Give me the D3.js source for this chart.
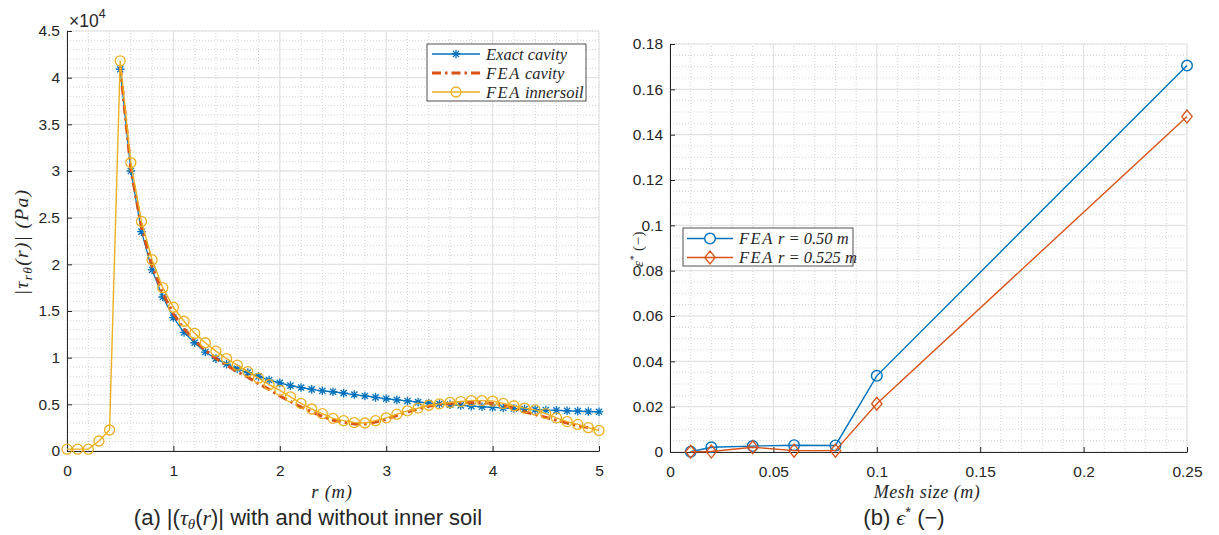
<!DOCTYPE html>
<html>
<head>
<meta charset="utf-8">
<script src="https://cdn.jsdelivr.net/npm/d3@7"></script>
<style>
  html, body { margin: 0; padding: 0; background: #fff; }
  svg { display: block; }
  text { fill: #262626; }
</style>
</head>
<body>
<svg id="fig" width="1219" height="535"></svg>
<script>
// ---- Panel (a): shear stress magnitude vs radius (values in units of 1e4 Pa) ----
const rExact = [0.5,0.6,0.7,0.8,0.9,1.0,1.1,1.2,1.3,1.4,1.5,1.6,1.7,1.8,1.9,2.0,2.1,2.2,2.3,2.4,2.5,2.6,2.7,2.8,2.9,3.0,3.1,3.2,3.3,3.4,3.5,3.6,3.7,3.8,3.9,4.0,4.1,4.2,4.3,4.4,4.5,4.6,4.7,4.8,4.9,5.0];
const tauExact = [4.09,3.00,2.35,1.94,1.65,1.43,1.27,1.16,1.06,0.99,0.93,0.88,0.84,0.80,0.76,0.73,0.70,0.68,0.66,0.645,0.635,0.62,0.605,0.59,0.575,0.56,0.548,0.536,0.524,0.513,0.505,0.497,0.489,0.481,0.474,0.467,0.461,0.455,0.449,0.444,0.439,0.435,0.431,0.427,0.423,0.42];
const rCavity = rExact;
const tauCavity = [4.12,3.02,2.40,1.98,1.69,1.47,1.31,1.18,1.08,0.99,0.92,0.85,0.79,0.72,0.66,0.59,0.53,0.47,0.42,0.37,0.33,0.31,0.29,0.29,0.31,0.34,0.38,0.42,0.45,0.48,0.50,0.51,0.52,0.52,0.52,0.51,0.49,0.46,0.42,0.39,0.36,0.33,0.30,0.27,0.25,0.23];
const rSoil = [0,0.1,0.2,0.3,0.4,0.5,0.6,0.7,0.8,0.9,1.0,1.1,1.2,1.3,1.4,1.5,1.6,1.7,1.8,1.9,2.0,2.1,2.2,2.3,2.4,2.5,2.6,2.7,2.8,2.9,3.0,3.1,3.2,3.3,3.4,3.5,3.6,3.7,3.8,3.9,4.0,4.1,4.2,4.3,4.4,4.5,4.6,4.7,4.8,4.9,5.0];
const tauSoil = [0.02,0.02,0.02,0.107,0.225,4.18,3.09,2.46,2.05,1.75,1.54,1.39,1.26,1.16,1.07,0.99,0.92,0.85,0.78,0.71,0.65,0.58,0.51,0.45,0.40,0.35,0.325,0.305,0.30,0.325,0.355,0.395,0.43,0.46,0.49,0.505,0.52,0.53,0.54,0.54,0.535,0.51,0.485,0.46,0.44,0.40,0.355,0.315,0.285,0.25,0.22];
const ticksA_x = [0,1,2,3,4,5];
const ticksA_y = [0,0.5,1,1.5,2,2.5,3,3.5,4,4.5];

// ---- Panel (b): relative error vs mesh size ----
const meshSize = [0.01,0.02,0.04,0.06,0.08,0.1,0.25];
const errR050 = [0.0001,0.0021,0.0026,0.0030,0.0029,0.0336,0.1705];
const errR0525 = [0.0001,0.0002,0.0021,0.0006,0.0006,0.0213,0.1480];
const ticksB_x = [0,0.05,0.1,0.15,0.2,0.25];
const ticksB_y = [0,0.02,0.04,0.06,0.08,0.1,0.12,0.14,0.16,0.18];

const C_BLUE = "#0072BD", C_ORANGE = "#D95319", C_YELLOW = "#EDB120";
const AXIS = "#262626";
const SERIF = "'Liberation Serif', 'Times New Roman', serif";
const SANS = "'Liberation Sans', Arial, sans-serif";
const svg = d3.select("#fig");
svg.append("rect").attr("width", 1219).attr("height", 535).attr("fill", "#fff");

function range(a, b, s) { const out = []; for (let v = a; v <= b + 1e-9; v += s) out.push(+v.toFixed(6)); return out; }

// Draws grid, axis lines, inward ticks and tick labels for one panel.
function panel(x, y, xMinor, yMinor, xFmt, yFmt, xTicks, yTicks) {
  const g = svg.append("g");
  const [x0, x1] = x.range(), [y0, y1] = y.range();
  // minor grid (dotted)
  g.selectAll(".mx").data(xMinor).join("line")
    .attr("x1", d => x(d)).attr("x2", d => x(d)).attr("y1", y0).attr("y2", y1)
    .attr("stroke", "#c8c8c8").attr("stroke-width", 0.8).attr("stroke-dasharray", "1,2");
  g.selectAll(".my").data(yMinor).join("line")
    .attr("y1", d => y(d)).attr("y2", d => y(d)).attr("x1", x0).attr("x2", x1)
    .attr("stroke", "#c8c8c8").attr("stroke-width", 0.8).attr("stroke-dasharray", "1,2");
  // major grid
  g.selectAll(".gx").data(xTicks).join("line")
    .attr("x1", d => x(d)).attr("x2", d => x(d)).attr("y1", y0).attr("y2", y1)
    .attr("stroke", "#e0e0e0").attr("stroke-width", 1);
  g.selectAll(".gy").data(yTicks).join("line")
    .attr("y1", d => y(d)).attr("y2", d => y(d)).attr("x1", x0).attr("x2", x1)
    .attr("stroke", "#e0e0e0").attr("stroke-width", 1);
  // left & bottom axes with inward ticks
  const ax = d3.axisBottom(x).tickValues(xTicks).tickFormat(xFmt).tickSizeInner(-5).tickSizeOuter(0).tickPadding(14);
  const ay = d3.axisLeft(y).tickValues(yTicks).tickFormat(yFmt).tickSizeInner(-5).tickSizeOuter(0).tickPadding(7);
  const gx = svg.append("g").attr("transform", `translate(0,${y0})`).call(ax);
  const gy = svg.append("g").attr("transform", `translate(${x0},0)`).call(ay);
  [gx, gy].forEach(a => {
    a.select(".domain").attr("stroke", AXIS).attr("stroke-width", 1);
    a.selectAll(".tick line").attr("stroke", AXIS);
    a.selectAll(".tick text").attr("fill", AXIS)
      .style("font-family", SANS).style("font-size", "15.5px");
  });
  return g;
}

// Asterisk marker (plus + cross)
function star(g, cx, cy, s, color) {
  const k = s * 0.72;
  g.append("path")
    .attr("d", `M${cx - s},${cy}L${cx + s},${cy}M${cx},${cy - s}L${cx},${cy + s}M${cx - k},${cy - k}L${cx + k},${cy + k}M${cx - k},${cy + k}L${cx + k},${cy - k}`)
    .attr("stroke", color).attr("stroke-width", 1.3).attr("fill", "none");
}
function diamond(g, cx, cy, color) {
  g.append("path").attr("d", `M${cx},${cy - 6.5}L${cx + 5.2},${cy}L${cx},${cy + 6.5}L${cx - 5.2},${cy}Z`)
    .attr("stroke", color).attr("stroke-width", 1.3).attr("fill", "none");
}
function mathText(sel, size, spacing) {
  return sel.style("font-family", SERIF).style("font-style", "italic")
    .style("font-size", size + "px").attr("letter-spacing", spacing + "px");
}

// ================= Panel (a) =================
const xA = d3.scaleLinear().domain([0, 5]).range([67, 599]);
const yA = d3.scaleLinear().domain([0, 4.5]).range([451, 31]);
panel(xA, yA, range(0, 5, 0.2), range(0, 4.5, 0.1), d3.format("d"), d => d3.format("~g")(d), ticksA_x, ticksA_y);

const gA = svg.append("g");
const lineA = d3.line().x(d => xA(d[0])).y(d => yA(d[1]));
const exactPts = rExact.map((r, i) => [r, tauExact[i]]);
const cavityPts = rCavity.map((r, i) => [r, tauCavity[i]]);
const soilPts = rSoil.map((r, i) => [r, tauSoil[i]]);

gA.append("path").attr("d", lineA(exactPts)).attr("fill", "none").attr("stroke", C_BLUE).attr("stroke-width", 1.3);
exactPts.forEach(p => star(gA, xA(p[0]), yA(p[1]), 4.3, C_BLUE));
gA.append("path").attr("d", lineA(cavityPts))
  .attr("fill", "none").attr("stroke", C_ORANGE).attr("stroke-width", 3).attr("stroke-dasharray", "9,4,2.5,4");
gA.append("path").attr("d", lineA(soilPts)).attr("fill", "none").attr("stroke", C_YELLOW).attr("stroke-width", 1.4);
gA.selectAll("circle").data(soilPts).join("circle")
  .attr("cx", d => xA(d[0])).attr("cy", d => yA(d[1])).attr("r", 5)
  .attr("fill", "none").attr("stroke", C_YELLOW).attr("stroke-width", 1.3);

// exponent label
const expo = svg.append("text").attr("x", 69).attr("y", 27)
  .style("font-family", SANS).style("font-size", "17.5px");
expo.append("tspan").text("\u00d710");
expo.append("tspan").attr("dy", -9).style("font-size", "12.5px").text("4");

// axis labels (a)
mathText(svg.append("text").attr("x", 332).attr("y", 498).attr("text-anchor", "middle"), 18.5, 0.8)
  .attr("fill", "#555").text("r (m)");
const ylA = mathText(svg.append("text").attr("transform", "translate(28,242) rotate(-90)").attr("text-anchor", "middle"), 19.5, 1.3)
  .attr("fill", "#555");
ylA.append("tspan").text("|\u03c4");
ylA.append("tspan").attr("dy", 4).style("font-size", "13.5px").text("r\u03b8");
ylA.append("tspan").attr("dy", -4).text("(r)| (Pa)");

// legend (a)
const legA = svg.append("g");
legA.append("rect").attr("x", 427).attr("y", 44).attr("width", 159).attr("height", 57)
  .attr("fill", "#fff").attr("stroke", "#262626").attr("stroke-width", 0.8);
const legItemsA = [
  {label: ["Exact", " cavity"], color: C_BLUE, kind: "star", y: 54},
  {label: ["FEA", " cavity"], color: C_ORANGE, kind: "dash", y: 73},
  {label: ["FEA", " innersoil"], color: C_YELLOW, kind: "circle", y: 92}
];
legItemsA.forEach(it => {
  const ln = legA.append("line").attr("x1", 432).attr("x2", 480).attr("y1", it.y).attr("y2", it.y)
    .attr("stroke", it.color).attr("stroke-width", it.kind === "dash" ? 3 : 1.3);
  if (it.kind === "dash") ln.attr("stroke-dasharray", "9,4,2.5,4");
  if (it.kind === "star") star(legA, 456, it.y, 4.3, C_BLUE);
  if (it.kind === "circle") legA.append("circle").attr("cx", 456).attr("cy", it.y).attr("r", 5)
    .attr("fill", "none").attr("stroke", C_YELLOW).attr("stroke-width", 1.3);
  const t = mathText(legA.append("text").attr("x", 486).attr("y", it.y + 5.5), 16.5, 0);
  t.append("tspan").attr("letter-spacing", it.label[0] === "FEA" ? "1.5px" : "0px").text(it.label[0]);
  t.append("tspan").text(it.label[1]);
});

// ================= Panel (b) =================
const xB = d3.scaleLinear().domain([0, 0.25]).range([670, 1187]);
const yB = d3.scaleLinear().domain([0, 0.18]).range([452, 44]);
panel(xB, yB, range(0, 0.25, 0.01), range(0, 0.18, 0.005), d => d3.format("~g")(d), d => d3.format("~g")(d), ticksB_x, ticksB_y);

const gB = svg.append("g");
const lineB = d3.line().x(d => xB(d[0])).y(d => yB(d[1]));
const s1 = meshSize.map((m, i) => [m, errR050[i]]);
const s2 = meshSize.map((m, i) => [m, errR0525[i]]);
gB.append("path").attr("d", lineB(s1)).attr("fill", "none").attr("stroke", C_BLUE).attr("stroke-width", 1.4);
gB.selectAll("circle").data(s1).join("circle")
  .attr("cx", d => xB(d[0])).attr("cy", d => yB(d[1])).attr("r", 5.3)
  .attr("fill", "none").attr("stroke", C_BLUE).attr("stroke-width", 1.4);
gB.append("path").attr("d", lineB(s2)).attr("fill", "none").attr("stroke", C_ORANGE).attr("stroke-width", 1.4);
s2.forEach(p => diamond(gB, xB(p[0]), yB(p[1]), C_ORANGE));

// axis labels (b)
mathText(svg.append("text").attr("x", 927).attr("y", 498).attr("text-anchor", "middle"), 18, 0.5)
  .attr("fill", "#555").text("Mesh size (m)");
const ylB = mathText(svg.append("text").attr("transform", "translate(643,249) rotate(-90)").attr("text-anchor", "middle"), 15, 0.5)
  .attr("fill", "#555");
ylB.append("tspan").text("\u03b5");
ylB.append("tspan").attr("dy", -6).style("font-size", "10px").text("*");
ylB.append("tspan").attr("dy", 6).style("font-style", "normal").text(" (\u2212)");

// legend (b)
const legB = svg.append("g");
legB.append("rect").attr("x", 683).attr("y", 228).attr("width", 170).attr("height", 38)
  .attr("fill", "#fff").attr("stroke", "#262626").attr("stroke-width", 0.8);
[{label: "r = 0.50 m", color: C_BLUE, kind: "circle", y: 238.5},
 {label: "r = 0.525 m", color: C_ORANGE, kind: "diamond", y: 257.5}].forEach(it => {
  legB.append("line").attr("x1", 687).attr("x2", 733).attr("y1", it.y).attr("y2", it.y)
    .attr("stroke", it.color).attr("stroke-width", 1.4);
  if (it.kind === "circle") legB.append("circle").attr("cx", 710).attr("cy", it.y).attr("r", 5.3)
    .attr("fill", "#fff").attr("stroke", C_BLUE).attr("stroke-width", 1.4);
  else diamond(legB, 710, it.y, C_ORANGE);
  const t = mathText(legB.append("text").attr("x", 739).attr("y", it.y + 5.5), 16.5, 0);
  t.append("tspan").attr("letter-spacing", "1.5px").text("FEA");
  t.append("tspan").text(" " + it.label);
});

// ================= captions =================
const capA = svg.append("text").attr("x", 308).attr("y", 525).attr("text-anchor", "middle")
  .style("font-family", SANS).style("font-size", "22px").attr("fill", "#000");
capA.append("tspan").text("(a) |(");
capA.append("tspan").style("font-family", SERIF).style("font-style", "italic").text("\u03c4");
capA.append("tspan").attr("dy", 4).style("font-family", SERIF).style("font-style", "italic").style("font-size", "15px").text("\u03b8");
capA.append("tspan").attr("dy", -4).text("(");
capA.append("tspan").style("font-family", SERIF).style("font-style", "italic").text("r");
capA.append("tspan").text(")| with and without inner soil");

const capB = svg.append("text").attr("x", 904).attr("y", 525).attr("text-anchor", "middle")
  .style("font-family", SANS).style("font-size", "22px").attr("fill", "#000");
capB.append("tspan").text("(b) ");
capB.append("tspan").style("font-family", SERIF).style("font-style", "italic").text("\u03f5");
capB.append("tspan").attr("dy", -8).style("font-size", "15px").text("*");
capB.append("tspan").attr("dy", 8).text(" (\u2212)");
</script>
</body>
</html>
